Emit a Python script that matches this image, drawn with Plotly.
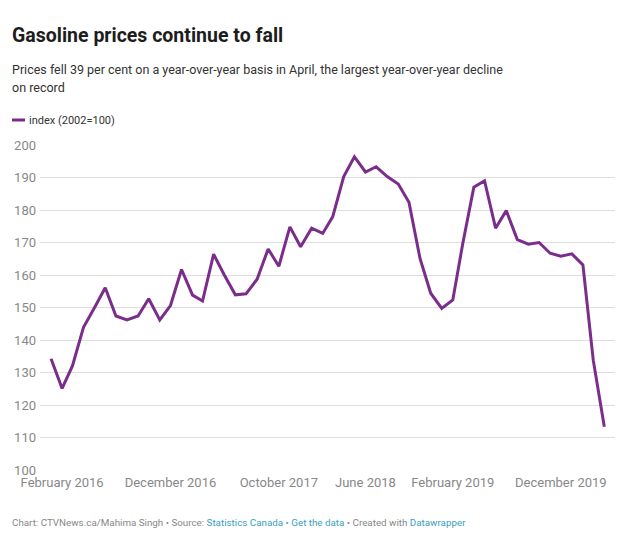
import pandas as pd
import plotly.graph_objects as go

# Gasoline price index (2002=100), monthly, Jan 2016 - Apr 2020
start_month = "2016-01-01"
index_values = [
    134.2, 125.1, 132.0, 143.9, 149.8, 156.1, 147.4, 146.2, 147.4, 152.7, 146.2, 150.6,
    161.7, 153.8, 152.0, 166.4, 160.0, 153.9, 154.2, 158.7, 168.0, 162.7, 174.8, 168.7,
    174.4, 172.8, 177.9, 190.3, 196.4, 191.7, 193.3, 190.3, 188.0, 182.4, 165.1, 154.4,
    149.7, 152.3, 169.7, 187.0, 189.0, 174.4, 179.8, 170.9, 169.5, 170.0, 166.7, 165.8,
    166.5, 163.1, 133.8, 113.3,
]
tick_dates = ["2016-02-01", "2016-12-01", "2017-10-01", "2018-06-01", "2019-02-01", "2019-12-01"]
tick_labels = ["February 2016", "December 2016", "October 2017", "June 2018",
               "February 2019", "December 2019"]
y_ticks = [100, 110, 120, 130, 140, 150, 160, 170, 180, 190, 200]

months = pd.date_range(start_month, periods=len(index_values), freq="MS")

LINE = "#7b2d8b"
FONT = "Roboto"

fig = go.Figure()
fig.add_trace(
    go.Scatter(
        x=months,
        y=index_values,
        mode="lines",
        name="index (2002=100)",
        line=dict(color=LINE, width=3),
        showlegend=False,
    )
)

# page has an 8px body margin, so the plot area lands at x 40..615, y 145..470
def py(px):
    return (470 - px) / 325

def px_(x):
    return (x - 40) / 575

fig.update_layout(
    width=636,
    height=533,
    margin=dict(l=32, r=29, t=137, b=71),
    paper_bgcolor="white",
    plot_bgcolor="white",
    font=dict(family=FONT, color="#333333"),
    xaxis=dict(
        range=["2015-12-01", "2020-05-01"],
        tickvals=pd.to_datetime(tick_dates),
        ticktext=tick_labels,
        showgrid=False,
        zeroline=False,
        showline=False,
        ticks="",
        automargin=False,
        ticklabelstandoff=3,
        tickfont=dict(family=FONT, size=13, color="#888888"),
    ),
    yaxis=dict(
        range=[100, 200],
        tickvals=y_ticks,
        showgrid=True,
        gridcolor="#dddddd",
        gridwidth=1,
        zeroline=False,
        showline=False,
        ticks="",
        automargin=False,
        ticklabelstandoff=3,
        tickfont=dict(family=FONT, size=13, color="#888888"),
    ),
)

fig.add_annotation(
    text="<b>Gasoline prices continue to fall</b>",
    xref="paper", yref="paper", x=px_(10), y=py(35),
    xanchor="left", yanchor="middle", showarrow=False,
    font=dict(family=FONT, size=19.5, color="#1d1d1d"),
)
fig.add_annotation(
    text="Prices fell 39 per cent on a year-over-year basis in April, the largest year-over-year decline",
    xref="paper", yref="paper", x=px_(10), y=py(70),
    xanchor="left", yanchor="middle", showarrow=False,
    font=dict(family=FONT, size=12.5, color="#333333"),
)
fig.add_annotation(
    text="on record",
    xref="paper", yref="paper", x=px_(10), y=py(87),
    xanchor="left", yanchor="middle", showarrow=False,
    font=dict(family=FONT, size=12.5, color="#333333"),
)

# legend swatch and label
fig.add_shape(
    type="line", xref="paper", yref="paper",
    x0=px_(12), x1=px_(25), y0=py(120), y1=py(120),
    line=dict(color=LINE, width=3),
)
fig.add_annotation(
    text="index (2002=100)",
    xref="paper", yref="paper", x=px_(27), y=py(120),
    xanchor="left", yanchor="middle", showarrow=False,
    font=dict(family=FONT, size=11, color="#333333"),
)

link = "#3a9fbf"
fig.add_annotation(
    text=(
        "Chart: CTVNews.ca/Mahima Singh • Source: "
        f"<span style='color:{link}'>Statistics Canada</span> • "
        f"<span style='color:{link}'>Get the data</span> • Created with "
        f"<span style='color:{link}'>Datawrapper</span>"
    ),
    xref="paper", yref="paper", x=px_(10), y=py(522),
    xanchor="left", yanchor="middle", showarrow=False,
    font=dict(family=FONT, size=9.8, color="#888888"),
)

fig.write_html("out.html")
